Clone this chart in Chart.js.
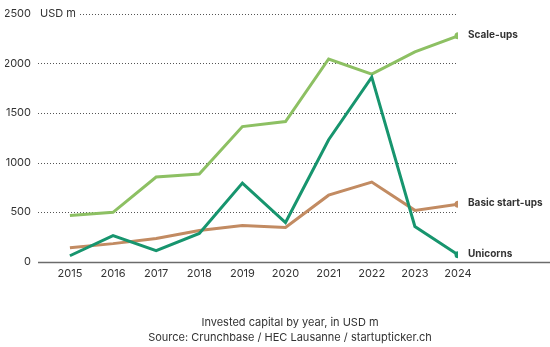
<!DOCTYPE html>
<html>
<head>
<meta charset="utf-8">
<script src="https://cdn.jsdelivr.net/npm/chart.js@4/dist/chart.umd.min.js"></script>
<style>
    html, body { margin: 0; padding: 0; background: #fff; }
    #wrap { width: 550px; height: 347px; }
</style>
</head>
<body>
<div id="wrap"><canvas id="capitalChart"></canvas></div>
<script>
// Invested capital by year, USD m
const years = [2015, 2016, 2017, 2018, 2019, 2020, 2021, 2022, 2023, 2024];
const scaleUps = [467, 498, 854, 884, 1362, 1413, 2043, 1890, 2114, 2276];
const unicorns = [61, 264, 112, 285, 793, 396, 1230, 1860, 356, 71];
const basicStartups = [142, 183, 234, 315, 366, 346, 671, 803, 518, 580];
const yTicks = [0, 500, 1000, 1500, 2000, 2500];
const captionLines = ['Invested capital by year, in USD m', 'Source: Crunchbase / HEC Lausanne / startupticker.ch'];

const FONT = 'Inter, "Noto Sans", Arial, sans-serif';
const TEXT = '#333333';

function points(values) {
    return values.map((v, i) => ({ x: years[i], y: v }));
}

function series(label, values, color) {
    const last = values.length - 1;
    return {
        label: label,
        data: points(values),
        borderColor: color,
        backgroundColor: color,
        borderWidth: 3,
        tension: 0,
        pointRadius: ctx => ctx.dataIndex === last ? 3.5 : 0,
        pointBorderWidth: 0,
        pointHoverRadius: 0
    };
}

// Dotted grid, axis unit, baseline, caption and series names at the line ends
const decorations = {
    id: 'decorations',
    beforeDatasetsDraw(chart) {
        const { ctx, chartArea, scales: { y } } = chart;
        ctx.save();
        ctx.strokeStyle = '#555';
        ctx.lineWidth = 1;
        ctx.setLineDash([1, 2]);
        yTicks.slice(1).forEach(t => {
            const py = Math.round(y.getPixelForValue(t)) + 0.5;
            const startX = t === 2500 ? chartArea.left + 42 : chartArea.left;
            ctx.beginPath();
            ctx.moveTo(startX, py);
            ctx.lineTo(chartArea.right, py);
            ctx.stroke();
        });
        ctx.setLineDash([]);
        ctx.fillStyle = TEXT;
        ctx.font = '11px ' + FONT;
        ctx.textBaseline = 'middle';
        ctx.textAlign = 'left';
        ctx.fillText('USD m', chartArea.left + 2, y.getPixelForValue(2500));

        const baseY = Math.round(y.getPixelForValue(0)) + 0.5;
        ctx.strokeStyle = '#6b6b6b';
        ctx.lineWidth = 1.5;
        ctx.beginPath();
        ctx.moveTo(chartArea.left, baseY);
        ctx.lineTo(chart.width, baseY);
        ctx.stroke();

        ctx.textAlign = 'center';
        ctx.font = '11px ' + FONT;
        ctx.fillText(captionLines[0], 290, 323);
        ctx.fillText(captionLines[1], 290, 338);
        ctx.restore();
    },
    afterDatasetsDraw(chart) {
        const { ctx } = chart;
        ctx.save();
        ctx.fillStyle = TEXT;
        ctx.font = 'bold 10px ' + FONT;
        ctx.textBaseline = 'middle';
        ctx.textAlign = 'left';
        chart.data.datasets.forEach((ds, i) => {
            const meta = chart.getDatasetMeta(i);
            const pt = meta.data[meta.data.length - 1];
            ctx.fillText(ds.label, pt.x + 10, pt.y - 1);
        });
        ctx.restore();
    }
};

new Chart(document.getElementById('capitalChart'), {
    type: 'line',
    data: {
        datasets: [
            series('Unicorns', unicorns, '#17956e'),
            series('Scale-ups', scaleUps, '#8dc063'),
            series('Basic start-ups', basicStartups, '#c28b62')
        ]
    },
    options: {
        responsive: true,
        maintainAspectRatio: false,
        animation: false,
        events: [],
        layout: {
            padding: { top: 10, right: 92, left: 5, bottom: 62 }
        },
        plugins: {
            legend: { display: false },
            tooltip: { enabled: false }
        },
        scales: {
            x: {
                type: 'linear',
                min: 2014.26,
                max: 2024,
                afterBuildTicks: axis => { axis.ticks = years.map(v => ({ value: v })); },
                grid: { display: false, drawTicks: false },
                border: { display: false },
                ticks: {
                    color: TEXT,
                    font: { family: FONT, size: 11 },
                    padding: 5,
                    autoSkip: false,
                    maxRotation: 0,
                    callback: v => String(v)
                }
            },
            y: {
                min: 0,
                max: 2500,
                afterBuildTicks: axis => { axis.ticks = yTicks.map(v => ({ value: v })); },
                afterFit: axis => { axis.width = 33; },
                grid: { display: false, drawTicks: false },
                border: { display: false },
                ticks: {
                    color: TEXT,
                    font: { family: FONT, size: 11 },
                    padding: 7,
                    callback: v => String(v)
                }
            }
        }
    },
    plugins: [decorations]
});
</script>
</body>
</html>
